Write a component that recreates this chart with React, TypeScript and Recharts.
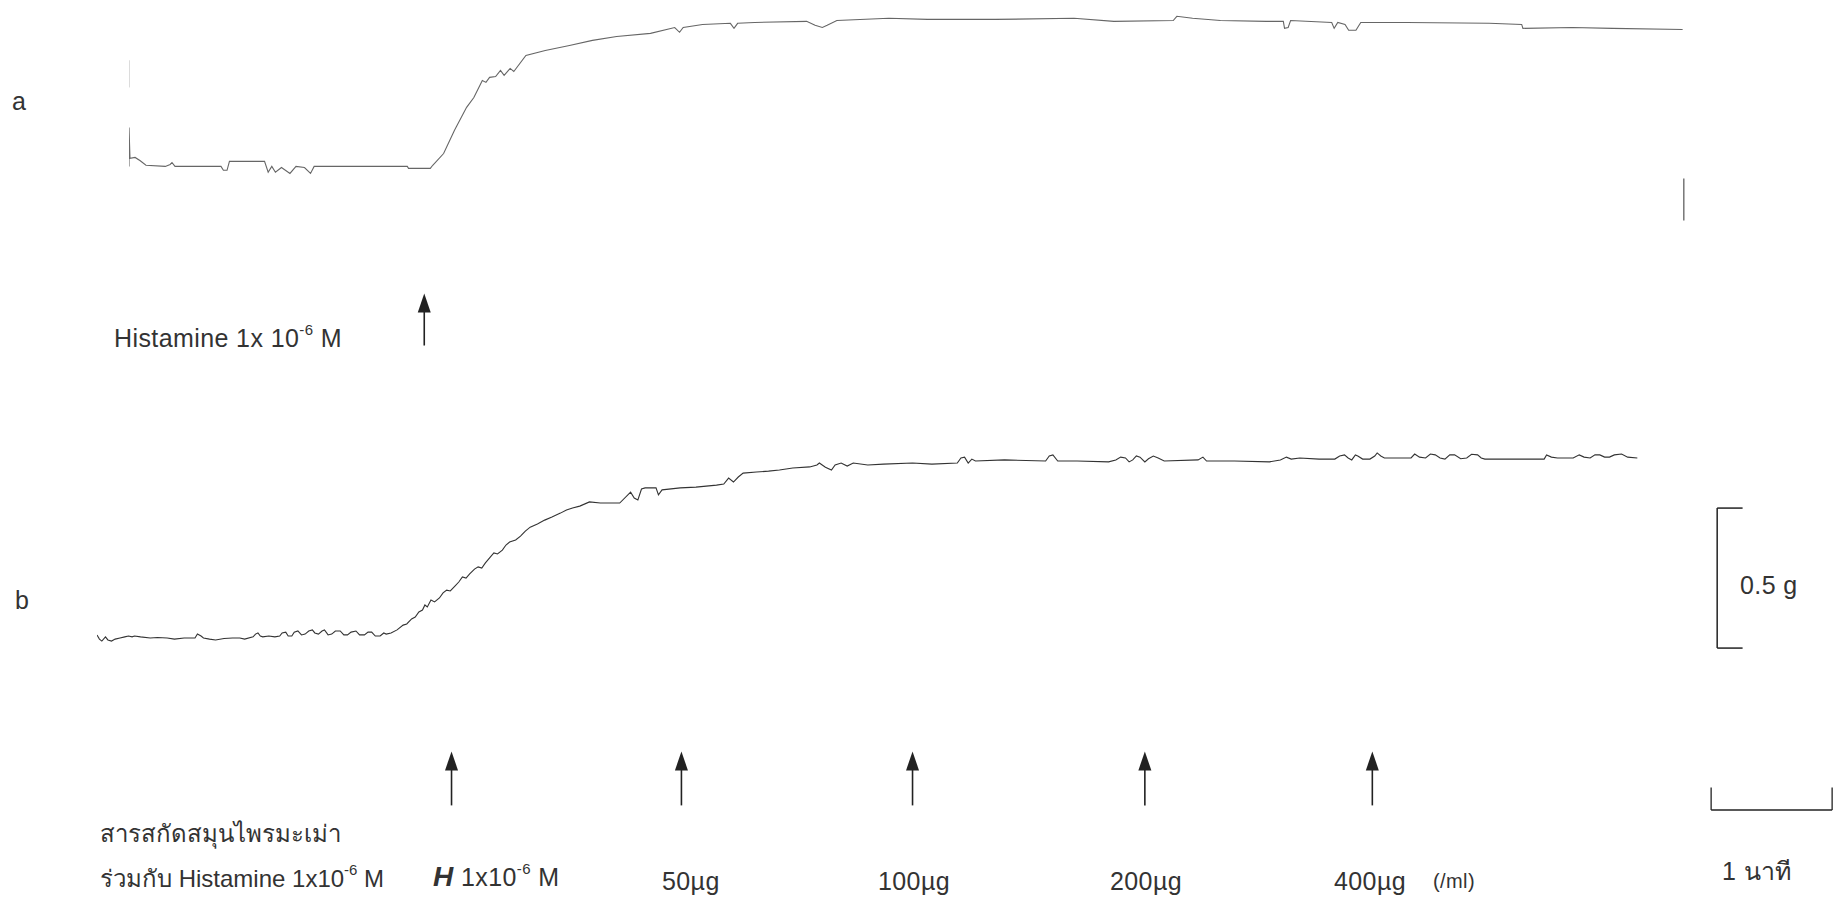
import React from 'react';
import { ComposedChart, Line, XAxis, YAxis, ReferenceLine, ReferenceDot } from 'recharts';

// time (min) / tension (g) pairs
const traceA: [number, number][] = [
  [0, 0], [0, 0.139], [0.008, 0.029], [0.05, 0.032], [0.09, 0.021], [0.14, 0.004], [0.3, 0],
  [0.34, 0.007], [0.355, 0.014], [0.38, 0], [0.76, 0], [0.78, -0.014], [0.81, -0.014], [0.83, 0.018],
  [1.12, 0.018], [1.15, -0.021], [1.18, 0], [1.21, -0.021], [1.26, -0.004], [1.33, -0.025], [1.38, 0],
  [1.45, -0.004], [1.5, -0.025], [1.53, 0], [2.3, 0], [2.31, -0.007], [2.49, -0.007], [2.51, 0.004],
  [2.6, 0.046], [2.69, 0.129], [2.79, 0.211], [2.85, 0.246], [2.92, 0.307], [2.95, 0.3], [2.98, 0.318],
  [3.03, 0.321], [3.07, 0.343], [3.1, 0.325], [3.15, 0.35], [3.18, 0.339], [3.28, 0.396], [3.44, 0.414],
  [3.64, 0.432], [3.83, 0.45], [4.03, 0.464], [4.31, 0.475], [4.51, 0.496], [4.55, 0.479], [4.58, 0.496],
  [4.74, 0.507], [4.97, 0.511], [5.0, 0.493], [5.03, 0.511], [5.17, 0.514], [5.6, 0.518], [5.67, 0.504],
  [5.73, 0.496], [5.77, 0.504], [5.85, 0.521], [6.28, 0.529], [6.6, 0.525], [7.16, 0.525], [7.81, 0.529],
  [8.14, 0.518], [8.63, 0.521], [8.66, 0.536], [8.79, 0.529], [9.02, 0.521], [9.4, 0.518], [9.54, 0.518],
  [9.55, 0.493], [9.58, 0.496], [9.6, 0.521], [9.94, 0.514], [9.96, 0.493], [9.99, 0.514], [10.05, 0.507],
  [10.08, 0.486], [10.14, 0.486], [10.18, 0.514], [10.56, 0.514], [11.24, 0.511], [11.51, 0.507],
  [11.52, 0.493], [11.93, 0.496], [12.26, 0.493], [12.84, 0.489],
];

const traceB: [number, number][] = [
  [0, 0.011], [0.02, -0.004], [0.04, -0.011], [0.07, 0.004], [0.09, -0.007], [0.12, -0.011], [0.15, -0.004],
  [0.19, 0], [0.23, 0.004], [0.26, 0.007], [0.29, 0.004], [0.31, 0.007], [0.36, 0.004], [0.44, 0], [0.5, 0.002],
  [0.58, 0], [0.64, -0.004], [0.72, 0], [0.81, 0], [0.83, 0.014], [0.86, 0.007], [0.88, 0], [0.93, -0.004],
  [0.98, -0.007], [1.05, -0.002], [1.12, 0], [1.18, 0], [1.22, -0.004], [1.29, 0.004], [1.31, 0.014],
  [1.33, 0.018], [1.35, 0.007], [1.37, 0.004], [1.42, 0.007], [1.47, 0.004], [1.51, 0.007], [1.53, 0.018],
  [1.56, 0.021], [1.58, 0.007], [1.61, 0.007], [1.63, 0.021], [1.66, 0.025], [1.69, 0.011], [1.72, 0.014],
  [1.75, 0.025], [1.78, 0.029], [1.8, 0.018], [1.83, 0.014], [1.86, 0.025], [1.88, 0.029], [1.91, 0.011],
  [1.94, 0.014], [1.97, 0.025], [2.01, 0.025], [2.04, 0.011], [2.07, 0.011], [2.1, 0.021], [2.14, 0.025],
  [2.17, 0.011], [2.21, 0.011], [2.24, 0.021], [2.27, 0.021], [2.3, 0.007], [2.34, 0.007], [2.37, 0.018],
  [2.39, 0.014], [2.43, 0.018], [2.48, 0.029], [2.53, 0.046], [2.56, 0.05], [2.6, 0.068], [2.63, 0.075],
  [2.66, 0.093], [2.69, 0.1], [2.71, 0.118], [2.73, 0.111], [2.76, 0.136], [2.79, 0.129], [2.83, 0.143],
  [2.86, 0.161], [2.89, 0.171], [2.92, 0.168], [2.96, 0.186], [2.99, 0.2], [3.02, 0.218], [3.05, 0.214],
  [3.08, 0.229], [3.12, 0.246], [3.15, 0.254], [3.18, 0.25], [3.21, 0.268], [3.25, 0.289], [3.28, 0.304],
  [3.31, 0.3], [3.35, 0.314], [3.38, 0.332], [3.41, 0.343], [3.46, 0.35], [3.5, 0.364], [3.54, 0.382],
  [3.58, 0.396], [3.64, 0.407], [3.7, 0.421], [3.76, 0.432], [3.83, 0.446], [3.88, 0.457], [3.93, 0.464],
  [3.99, 0.471], [4.07, 0.486], [4.16, 0.482], [4.32, 0.482], [4.41, 0.521], [4.44, 0.5], [4.47, 0.493],
  [4.5, 0.532], [4.53, 0.536], [4.62, 0.536], [4.64, 0.511], [4.67, 0.529], [4.82, 0.536], [4.95, 0.539],
  [5.12, 0.546], [5.18, 0.55], [5.22, 0.571], [5.26, 0.557], [5.3, 0.575], [5.34, 0.589], [5.45, 0.593],
  [5.55, 0.596], [5.64, 0.6], [5.75, 0.607], [5.89, 0.611], [5.95, 0.618], [5.97, 0.625], [6.02, 0.61],
  [6.07, 0.6], [6.1, 0.618], [6.15, 0.625], [6.2, 0.614], [6.25, 0.625], [6.37, 0.618], [6.5, 0.621],
  [6.74, 0.625], [6.9, 0.621], [7.11, 0.625], [7.14, 0.643], [7.17, 0.646], [7.2, 0.625], [7.23, 0.639],
  [7.26, 0.632], [7.5, 0.636], [7.84, 0.632], [7.87, 0.65], [7.9, 0.654], [7.94, 0.632], [8.1, 0.632],
  [8.36, 0.629], [8.42, 0.636], [8.46, 0.646], [8.5, 0.643], [8.53, 0.629], [8.56, 0.636], [8.59, 0.65],
  [8.62, 0.646], [8.66, 0.629], [8.69, 0.64], [8.73, 0.65], [8.77, 0.643], [8.82, 0.632], [9.1, 0.636],
  [9.14, 0.646], [9.17, 0.632], [9.4, 0.632], [9.69, 0.629], [9.78, 0.636], [9.83, 0.646], [9.87, 0.639],
  [9.94, 0.643], [10.1, 0.639], [10.23, 0.639], [10.27, 0.65], [10.31, 0.654], [10.34, 0.643], [10.37, 0.636],
  [10.4, 0.654], [10.42, 0.65], [10.46, 0.639], [10.52, 0.639], [10.56, 0.65], [10.58, 0.661], [10.61, 0.65],
  [10.64, 0.643], [10.86, 0.643], [10.89, 0.657], [10.93, 0.646], [10.98, 0.643], [11.02, 0.657],
  [11.06, 0.654], [11.1, 0.643], [11.14, 0.639], [11.18, 0.654], [11.22, 0.654], [11.27, 0.64], [11.32, 0.643],
  [11.36, 0.656], [11.41, 0.654], [11.44, 0.643], [11.47, 0.639], [11.7, 0.639], [11.96, 0.639], [11.98, 0.654],
  [12.02, 0.646], [12.07, 0.643], [12.2, 0.643], [12.25, 0.654], [12.29, 0.646], [12.34, 0.643], [12.38, 0.654],
  [12.42, 0.654], [12.46, 0.646], [12.5, 0.646], [12.54, 0.654], [12.6, 0.657], [12.65, 0.646], [12.73, 0.643],
];

// drug additions (min)
const histamineA = [2.44];
const additionsB = [2.93, 4.83, 6.74, 8.66, 10.54];
const additionLabels = ['1x10', '50µg', '100µg', '200µg', '400µg'];

// scale bars
const SCALE_G = 0.5;
const SCALE_MIN = 1;

const PX_PER_MIN = 121;
const PX_PER_G = 280;

const toRows = (pts: [number, number][]) => pts.map(([t, g]) => ({ t, g }));

const Arrow = (len: number) => (props: any) => {
  const { cx, cy } = props;
  return (
    <g>
      <line x1={cx} y1={cy + 15} x2={cx} y2={cy + len} stroke="#222" strokeWidth={1.6} />
      <polygon points={`${cx},${cy} ${cx - 6.5},${cy + 19} ${cx + 6.5},${cy + 19}`} fill="#222" />
    </g>
  );
};

const txt: React.CSSProperties = {
  position: 'absolute',
  fontFamily: '"Liberation Sans", Arial, "Noto Sans", sans-serif',
  fontSize: 25,
  letterSpacing: 0.4,
  color: '#333',
  whiteSpace: 'nowrap',
  lineHeight: 1,
  transform: 'translateY(-50%)',
};

const Sup = ({ children }: { children: React.ReactNode }) => (
  <sup style={{ fontSize: 15, position: 'relative', top: -3 }}>{children}</sup>
);

const chartBox = (left: number, base: number, x: [number, number], y: [number, number]) => ({
  left,
  top: base - y[1] * PX_PER_G,
  width: (x[1] - x[0]) * PX_PER_MIN,
  height: (y[1] - y[0]) * PX_PER_G,
});

export default function App() {
  const aX: [number, number] = [0, 13];
  const aY: [number, number] = [-0.7, 0.58];
  const bX: [number, number] = [0, 14.45];
  const bY: [number, number] = [-0.75, 0.75];
  const boxA = chartBox(129, 166, aX, aY);
  const boxB = chartBox(97, 638, bX, bY);

  const barT = 13.39;
  const barG = -0.036;
  const timeT = 13.34;
  const timeG = -0.614;

  return (
    <div style={{ position: 'absolute', left: 0, top: 0, width: 1847, height: 909, background: '#fff', overflow: 'hidden' }}>
      <div style={{ position: 'absolute', left: boxA.left, top: boxA.top }}>
        <ComposedChart width={boxA.width} height={boxA.height} data={toRows(traceA)} margin={{ top: 0, right: 0, bottom: 0, left: 0 }}>
          <XAxis type="number" dataKey="t" domain={aX} hide allowDataOverflow />
          <YAxis type="number" domain={aY} hide allowDataOverflow />
          <ReferenceLine segment={[{ x: 0, y: 0.282 }, { x: 0, y: 0.379 }]} stroke="#bbb" strokeWidth={1} />
          <ReferenceLine segment={[{ x: 12.85, y: -0.043 }, { x: 12.85, y: -0.193 }]} stroke="#555" strokeWidth={1.2} />
          <Line type="linear" dataKey="g" stroke="#666" strokeWidth={1.1} dot={false} isAnimationActive={false} />
          {histamineA.map((t) => (
            <ReferenceDot key={t} x={t} y={-0.454} r={1} shape={Arrow(52)} />
          ))}
        </ComposedChart>
      </div>

      <div style={{ position: 'absolute', left: boxB.left, top: boxB.top }}>
        <ComposedChart width={boxB.width} height={boxB.height} data={toRows(traceB)} margin={{ top: 0, right: 0, bottom: 0, left: 0 }}>
          <XAxis type="number" dataKey="t" domain={bX} hide allowDataOverflow />
          <YAxis type="number" domain={bY} hide allowDataOverflow />
          <Line type="linear" dataKey="g" stroke="#333" strokeWidth={1.1} dot={false} isAnimationActive={false} />
          {additionsB.map((t) => (
            <ReferenceDot key={t} x={t} y={-0.405} r={1} shape={Arrow(54)} />
          ))}
          {/* 0.5 g bar */}
          <ReferenceLine segment={[{ x: barT, y: barG }, { x: barT, y: barG + SCALE_G }]} stroke="#222" strokeWidth={1.5} />
          <ReferenceLine segment={[{ x: barT, y: barG + SCALE_G }, { x: barT + 0.21, y: barG + SCALE_G }]} stroke="#222" strokeWidth={1.5} />
          <ReferenceLine segment={[{ x: barT, y: barG }, { x: barT + 0.21, y: barG }]} stroke="#222" strokeWidth={1.5} />
          {/* 1 min bar */}
          <ReferenceLine segment={[{ x: timeT, y: timeG }, { x: timeT + SCALE_MIN, y: timeG }]} stroke="#222" strokeWidth={1.5} />
          <ReferenceLine segment={[{ x: timeT, y: timeG }, { x: timeT, y: timeG + 0.08 }]} stroke="#222" strokeWidth={1.3} />
          <ReferenceLine segment={[{ x: timeT + SCALE_MIN, y: timeG }, { x: timeT + SCALE_MIN, y: timeG + 0.08 }]} stroke="#222" strokeWidth={1.3} />
        </ComposedChart>
      </div>

      <div style={{ ...txt, left: 12, top: 101 }}>a</div>
      <div style={{ ...txt, left: 15, top: 600 }}>b</div>
      <div style={{ ...txt, left: 114, top: 338 }}>
        Histamine 1x 10<Sup>-6</Sup> M
      </div>
      <div style={{ ...txt, left: 1740, top: 585 }}>0.5 g</div>
      <div style={{ ...txt, left: 1722, top: 871 }}>1 นาที</div>

      <div style={{ ...txt, left: 100, top: 834, fontSize: 24, letterSpacing: 0 }}>สารสกัดสมุนไพรมะเม่า</div>
      <div style={{ ...txt, left: 100, top: 878, fontSize: 24, letterSpacing: 0 }}>
        ร่วมกับ Histamine 1x10<Sup>-6</Sup> M
      </div>
      <div style={{ ...txt, left: 433, top: 877 }}>
        <span style={{ fontWeight: 'bold', fontStyle: 'italic', fontSize: 28 }}>H</span> {additionLabels[0]}
        <Sup>-6</Sup> M
      </div>
      <div style={{ ...txt, left: 662, top: 881 }}>{additionLabels[1]}</div>
      <div style={{ ...txt, left: 878, top: 881 }}>{additionLabels[2]}</div>
      <div style={{ ...txt, left: 1110, top: 881 }}>{additionLabels[3]}</div>
      <div style={{ ...txt, left: 1334, top: 881 }}>{additionLabels[4]}</div>
      <div style={{ ...txt, left: 1433, top: 881, fontSize: 20 }}>(/ml)</div>
    </div>
  );
}
